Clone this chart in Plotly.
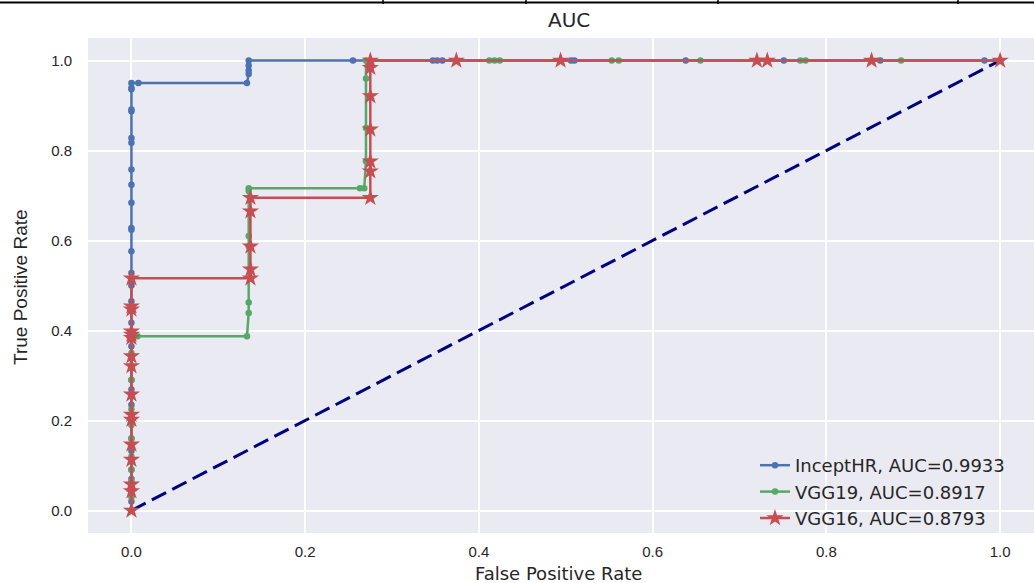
import plotly.graph_objects as go

# ---------------- data ----------------
incept_fpr = [0]*35 + [0.008, 0.133, 0.135, 0.135, 0.135, 0.135, 0.255, 0.347, 0.352, 0.358,
                      0.506, 0.510, 0.638, 0.751, 0.862, 0.982, 1.0]
incept_tpr = [0.0, 0.02, 0.045, 0.07, 0.091, 0.11, 0.132, 0.16, 0.195, 0.21, 0.235, 0.269, 0.29,
              0.317, 0.34, 0.365, 0.39, 0.417, 0.454, 0.465, 0.5, 0.528, 0.576, 0.624, 0.628,
              0.684, 0.724, 0.758, 0.817, 0.828, 0.887, 0.891, 0.936, 0.939, 0.95,
              0.95, 0.95, 0.97, 0.978, 0.989, 1.0, 1.0, 1.0, 1.0, 1.0,
              1.0, 1.0, 1.0, 1.0, 1.0, 1.0, 1.0]

vgg19_fpr = [0]*13 + [0.007, 0.133, 0.135, 0.135, 0.135, 0.135, 0.135, 0.135, 0.263, 0.268,
                     0.270, 0.270, 0.270, 0.270, 0.412, 0.418, 0.424, 0.553, 0.561, 0.655,
                     0.770, 0.776, 0.886, 1.0]
vgg19_tpr = [0.0, 0.03, 0.065, 0.09, 0.12, 0.16, 0.19, 0.225, 0.26, 0.29, 0.32, 0.35, 0.387,
             0.387, 0.387, 0.439, 0.462, 0.587, 0.61, 0.71, 0.716, 0.716, 0.716,
             0.776, 0.85, 0.96, 1.0, 1.0, 1.0, 1.0, 1.0, 1.0, 1.0,
             1.0, 1.0, 1.0, 1.0]

vgg16_fpr = [0]*16 + [0.137, 0.137, 0.137, 0.137, 0.137, 0.275, 0.275, 0.275, 0.275, 0.275,
                     0.275, 0.275, 0.374, 0.494, 0.720, 0.732, 0.852, 1.0]
vgg16_tpr = [0.0, 0.043, 0.058, 0.113, 0.147, 0.202, 0.213, 0.258, 0.321, 0.343, 0.384, 0.391,
             0.398, 0.447, 0.454, 0.516,
             0.516, 0.536, 0.587, 0.665, 0.695, 0.695, 0.754, 0.776, 0.847, 0.921,
             0.984, 1.0, 1.0, 1.0, 1.0, 1.0, 1.0, 1.0]

chance = [0, 1]

names = ["InceptHR, AUC=0.9933", "VGG19, AUC=0.8917", "VGG16, AUC=0.8793"]
colors = ["#4C72B0", "#55A868", "#C44E52"]

tick_vals = [0, 0.2, 0.4, 0.6, 0.8, 1.0]
tick_text = ["0.0", "0.2", "0.4", "0.6", "0.8", "1.0"]

FONT = "Liberation Sans, Arial, sans-serif"
WIDE = "DejaVu Sans, Liberation Sans, sans-serif"
TXT = "#262626"

fig = go.Figure()

fig.add_trace(go.Scatter(x=chance, y=chance, mode="lines", showlegend=False,
                         line=dict(color="navy", width=3, dash="16px,7px")))

fig.add_trace(go.Scatter(x=incept_fpr, y=incept_tpr, mode="lines+markers", name=names[0],
                         line=dict(color=colors[0], width=2.5),
                         marker=dict(symbol="circle", size=6.5, color=colors[0])))
fig.add_trace(go.Scatter(x=vgg19_fpr, y=vgg19_tpr, mode="lines+markers", name=names[1],
                         line=dict(color=colors[1], width=2.5),
                         marker=dict(symbol="circle", size=6.5, color=colors[1])))
fig.add_trace(go.Scatter(x=vgg16_fpr, y=vgg16_tpr, mode="lines+markers", name=names[2],
                         line=dict(color=colors[2], width=2.5),
                         marker=dict(symbol="star", size=13, color=colors[2])))

L, R, T, B = 88, 0, 38, 50
W, H = 1034, 583
pw, ph = W - L - R, H - T - B

def px(x):
    return (x - L) / pw

def py(y):
    return (H - B - y) / ph

fig.update_layout(
    width=W, height=H,
    margin=dict(l=L, r=R, t=T, b=B),
    paper_bgcolor="white",
    plot_bgcolor="#EAEAF2",
    font=dict(family=FONT, color=TXT, size=15),
    showlegend=True,
    legend=dict(x=px(755), y=py(447), xanchor="left", yanchor="top",
                bgcolor="rgba(0,0,0,0)", font=dict(family=WIDE, size=18, color=TXT),
                tracegroupgap=0),
    xaxis=dict(range=[-0.05, 1.039], tickvals=tick_vals, ticktext=tick_text,
               showgrid=True, gridcolor="white", gridwidth=1.5, zeroline=False,
               showline=False, ticks="outside", ticklen=5, tickcolor="rgba(0,0,0,0)",
               tickfont=dict(size=15, color=TXT)),
    yaxis=dict(range=[-0.05, 1.05], tickvals=tick_vals, ticktext=tick_text,
               showgrid=True, gridcolor="white", gridwidth=1.5, zeroline=False,
               showline=False, ticks="outside", ticklen=12, tickcolor="rgba(0,0,0,0)",
               tickfont=dict(size=15, color=TXT)),
    annotations=[
        dict(text="AUC", x=px(569), y=py(20), xref="paper", yref="paper",
             showarrow=False, font=dict(family=WIDE, size=20, color=TXT),
             xanchor="center", yanchor="middle"),
        dict(text="False Positive Rate", x=px(558), y=py(573), xref="paper", yref="paper",
             showarrow=False, font=dict(family=WIDE, size=18, color=TXT),
             xanchor="center", yanchor="middle"),
        dict(text="True Positive Rate", x=px(20), y=py(287), xref="paper", yref="paper",
             showarrow=False, textangle=-90, font=dict(size=19, color=TXT),
             xanchor="center", yanchor="middle"),
    ],
    shapes=[
        dict(type="line", xref="paper", yref="paper", x0=px(0), x1=px(W), y0=py(2.5), y1=py(2.5),
             line=dict(color="black", width=2)),
    ] + [
        dict(type="line", xref="paper", yref="paper", x0=px(v), x1=px(v), y0=py(0), y1=py(4),
             line=dict(color="black", width=1.5))
        for v in [383, 526, 718, 958]
    ],
)

fig.write_html("out.html", config={"displayModeBar": False},
               post_script="document.body.style.margin='0px';document.body.style.overflow='hidden';")
